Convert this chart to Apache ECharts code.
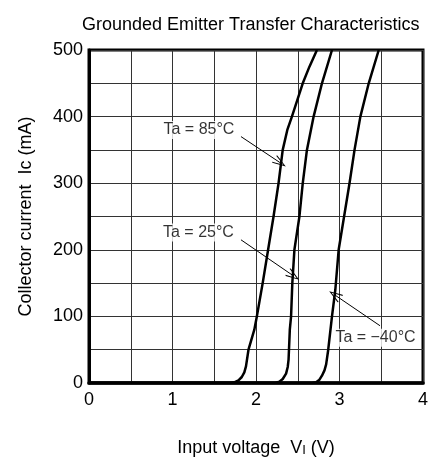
<!DOCTYPE html>
<html>
<head>
<meta charset="utf-8">
<script src="https://cdn.jsdelivr.net/npm/echarts@6/dist/echarts.min.js"></script>
<style>
body{
  margin: 0;
  background: #fff;
}
#chart{
  width: 435px;
  height: 464px;
}
</style>
</head>
<body>
<div id="chart"></div>
<script>
// curves: input voltage (V) / collector current (mA)
const volt85 = [0, 1.69, 1.74, 1.79, 1.83, 1.86, 1.88, 1.91, 1.98, 2.01, 2.08, 2.145, 2.21, 2.27, 2.32, 2.375, 2.43, 2.56, 2.64, 2.73]
const curr85 = [0, 0, 1, 4, 9, 16, 25, 50, 80, 100, 150, 200, 250, 300, 350, 380, 400, 450, 475, 500]
const volt25 = [0, 2.23, 2.28, 2.32, 2.36, 2.38, 2.39, 2.405, 2.42, 2.435, 2.46, 2.52, 2.56, 2.61, 2.69, 2.79, 2.91]
const curr25 = [0, 0, 2, 6, 14, 24, 35, 80, 100, 150, 200, 250, 300, 350, 400, 450, 500]
const voltM40 = [0, 2.67, 2.72, 2.76, 2.79, 2.82, 2.84, 2.865, 2.91, 2.95, 2.99, 3.12, 3.18, 3.25, 3.35, 3.47]
const currM40 = [0, 0, 1, 5, 11, 19, 28, 50, 100, 140, 200, 300, 350, 400, 450, 500]

const xTickLabels = ['0', '1', '2', '3', '4']
const yTickLabels = ['0', '100', '200', '300', '400', '500']

// annotation texts and arrows (data coordinates)
const noteText = ['Ta = 85°C', 'Ta = 25°C', 'Ta = −40°C']
const notePos = [[1.317, 380], [1.311, 226], [3.431, 68]]
const arrowFrom = [[1.82, 370], [1.82, 215], [3.485, 86]]
const arrowTo = [[2.287, 331], [2.447, 161], [2.946, 132]]

function pairs(xs, ys) {
  return xs.map((x, i) => [x, ys[i]])
}

const font = "'Liberation Sans', Arial, sans-serif"

function curve(name, xs, ys) {
  return {
    name: name,
    type: 'line',
    data: pairs(xs, ys),
    showSymbol: false,
    smooth: false,
    lineStyle: {color: '#000', width: 2.5, join: 'round'},
    silent: true,
    z: 5
  }
}

let chart = echarts.init(document.getElementById('chart'))
chart.setOption({
  animation: false,
  title: {
    text: 'Grounded Emitter Transfer Characteristics',
    left: 77,
    top: 11,
    textStyle: {fontFamily: font, fontSize: 18, fontWeight: 'normal', color: '#000'}
  },
  grid: {
    left: 89,
    top: 50,
    right: 12,
    bottom: 81,
    show: true,
    borderColor: '#000',
    borderWidth: 3
  },
  xAxis: {
    type: 'value',
    min: 0,
    max: 4,
    interval: 0.5,
    name: 'Input voltage  V{s|I} (V)',
    nameLocation: 'middle',
    nameGap: 56,
    nameTextStyle: {
      fontFamily: font, fontSize: 18, color: '#000',
      rich: {
        s: {fontFamily: font, fontSize: 13, color: '#000', padding: [5, 0, 0, 0]}
      }
    },
    axisLine: {lineStyle: {color: '#000', width: 3.5}},
    axisTick: {show: false},
    axisLabel: {
      fontFamily: font, fontSize: 18, color: '#000', margin: 8,
      formatter: v => xTickLabels.includes(String(v)) ? String(v) : ''
    },
    splitLine: {lineStyle: {color: '#333', width: 1}}
  },
  yAxis: {
    type: 'value',
    min: 0,
    max: 500,
    interval: 50,
    name: 'Collector current  Ic (mA)',
    nameLocation: 'middle',
    nameGap: 54,
    nameTextStyle: {fontFamily: font, fontSize: 18, color: '#000'},
    axisLine: {show: true, lineStyle: {color: '#000', width: 3}},
    axisTick: {show: false},
    axisLabel: {
      fontFamily: font, fontSize: 18, color: '#000', margin: 6,
      formatter: v => yTickLabels.includes(String(v)) ? String(v) : ''
    },
    splitLine: {lineStyle: {color: '#333', width: 1}}
  },
  series: [
    curve('Ta = 85°C', volt85, curr85),
    curve('Ta = 25°C', volt25, curr25),
    curve('Ta = −40°C', voltM40, currM40),
    {
      name: 'notes',
      type: 'scatter',
      symbolSize: 0,
      silent: true,
      data: notePos.map((p, i) => ({value: p, name: noteText[i]})),
      label: {
        show: true,
        position: 'inside',
        formatter: p => p.name,
        fontFamily: font,
        fontSize: 16,
        color: '#000',
        backgroundColor: '#fff',
        padding: [1, 2]
      },
      markLine: {
        silent: true,
        symbol: ['none', 'path://M5,0 L10,13 L9,13.8 L5,2.8 L1,13.8 L0,13 Z'],
        symbolSize: [9, 14],
        label: {show: false},
        lineStyle: {color: '#000', width: 1, type: 'solid'},
        data: arrowFrom.map((a, i) => [{coord: a}, {coord: arrowTo[i]}])
      },
      z: 6
    }
  ]
})
</script>
</body>
</html>
